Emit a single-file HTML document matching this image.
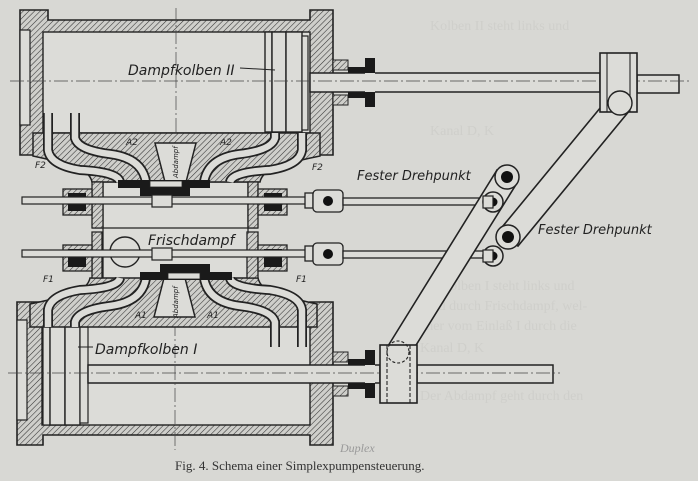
<!DOCTYPE html>
<html><head><meta charset="utf-8"><style>
html,body{margin:0;padding:0;background:#d8d8d4;}
svg{display:block}
.l{font-family:"DejaVu Sans","Liberation Sans",sans-serif;font-style:italic;fill:#222;}
</style></head><body>
<svg width="698" height="481" viewBox="0 0 698 481" xmlns="http://www.w3.org/2000/svg">
<defs>
<pattern id="h" width="4" height="4" patternUnits="userSpaceOnUse" patternTransform="rotate(45)">
<rect width="4" height="4" fill="#cfcfcb"/><line x1="0" y1="0" x2="0" y2="4" stroke="#333" stroke-width="1.1"/>
</pattern>
<g id="block">
<path d="M33,133 L320,133 L320,156 Q300,160 278,166 Q262,172 260,182 L92,182 Q90,172 74,166 Q52,160 33,156 Z" fill="url(#h)" stroke="#222" stroke-width="1.5"/>
<g fill="none" stroke-linecap="butt">
<path d="M48,113 L48,150 Q50,165 80,170 Q118,172 120,182" stroke="#222" stroke-width="10"/>
<path d="M48,113 L48,150 Q50,165 80,170 Q118,172 120,182" stroke="#dcdcd8" stroke-width="6.5"/>
<path d="M75,113 L75,138 Q78,150 110,154 Q142,158 146,182" stroke="#222" stroke-width="10"/>
<path d="M75,113 L75,138 Q78,150 110,154 Q142,158 146,182" stroke="#dcdcd8" stroke-width="6.5"/>
<path d="M302,133 L302,150 Q300,165 270,170 Q232,172 230,182" stroke="#222" stroke-width="10"/>
<path d="M302,133 L302,150 Q300,165 270,170 Q232,172 230,182" stroke="#dcdcd8" stroke-width="6.5"/>
<path d="M275,133 L275,138 Q272,150 240,154 Q208,158 204,182" stroke="#222" stroke-width="10"/>
<path d="M275,133 L275,138 Q272,150 240,154 Q208,158 204,182" stroke="#dcdcd8" stroke-width="6.5"/>
</g>
<path d="M155,143 L196,143 L186,182 L165,182 Z" fill="#dcdcd8" stroke="#222" stroke-width="1.5"/>
<rect x="118" y="180" width="92" height="8" fill="#1a1a1a"/>
<rect x="150" y="181" width="32" height="6" fill="#dcdcd8" stroke="#222" stroke-width="0.8"/>
<rect x="140" y="188" width="50" height="8" fill="#1a1a1a"/>
<path d="M92,182 L103,182 L103,228 L92,228 Z" fill="url(#h)" stroke="#222" stroke-width="1.3"/>
<path d="M248,182 L258,182 L258,228 L248,228 Z" fill="url(#h)" stroke="#222" stroke-width="1.3"/>
<rect x="63" y="189" width="29" height="26" fill="url(#h)" stroke="#222" stroke-width="1.3"/>
<rect x="68" y="193" width="18" height="18" fill="#1a1a1a"/>
<rect x="258" y="189" width="29" height="26" fill="url(#h)" stroke="#222" stroke-width="1.3"/>
<rect x="264" y="193" width="18" height="18" fill="#1a1a1a"/>
</g>
</defs>

<g fill="#cfcfcb" font-family="Liberation Serif,serif" font-size="14">
<text x="430" y="30">Kolben II steht links und</text>
<text x="430" y="135">Kanal D, K</text>
<text x="440" y="290">Kolben I steht links und</text>
<text x="420" y="310">wird durch Frischdampf, wel-</text>
<text x="420" y="330">cher vom Einlaß I durch die</text>
<text x="420" y="352">Kanal D, K</text>
<text x="420" y="400">Der Abdampf geht durch den</text>
</g>

<path d="M20,10 L48,10 L48,20 L310,20 L310,10 L333,10 L333,155 L310,155 L310,133 L43,133 L43,155 L20,155 Z" fill="url(#h)" stroke="#222" stroke-width="1.6"/>
<rect x="43" y="32" width="267" height="101" fill="#dcdcd8" stroke="#222" stroke-width="1.4"/>
<rect x="20" y="30" width="10" height="95" fill="#dcdcd8" stroke="#222" stroke-width="1.2"/>
<rect x="265" y="32" width="7" height="100" fill="#dcdcd8" stroke="#222" stroke-width="1.4"/>
<rect x="272" y="32" width="14" height="100" fill="#dcdcd8" stroke="#222" stroke-width="1.4"/>
<rect x="286" y="32" width="16" height="100" fill="#dcdcd8" stroke="#222" stroke-width="1.4"/>
<rect x="302" y="36" width="6" height="94" fill="#dcdcd8" stroke="#222" stroke-width="1.2"/>
<rect x="310" y="73" width="290" height="19" fill="#dcdcd8" stroke="#222" stroke-width="1.5"/>
<rect x="637" y="75" width="42" height="18" fill="#dcdcd8" stroke="#222" stroke-width="1.5"/>
<rect x="333" y="60" width="15" height="10" fill="url(#h)" stroke="#222"/>
<rect x="333" y="95" width="15" height="10" fill="url(#h)" stroke="#222"/>
<rect x="348" y="67" width="27" height="6" fill="#1a1a1a"/>
<rect x="348" y="92" width="27" height="6" fill="#1a1a1a"/>
<rect x="365" y="58" width="10" height="49" fill="#1a1a1a"/>
<rect x="365" y="73" width="10" height="19" fill="#dcdcd8"/>
<line x1="10" y1="81" x2="690" y2="81" stroke="#444" stroke-width="0.7" stroke-dasharray="14,3,2,3"/>
<line x1="176" y1="8" x2="176" y2="150" stroke="#444" stroke-width="0.7" stroke-dasharray="14,3,2,3"/>

<path d="M17,302 L43,302 L43,315 L310,315 L310,302 L333,302 L333,445 L310,445 L310,435 L43,435 L43,445 L17,445 Z" fill="url(#h)" stroke="#222" stroke-width="1.6"/>
<rect x="42" y="325" width="268" height="100" fill="#dcdcd8" stroke="#222" stroke-width="1.4"/>
<rect x="17" y="320" width="10" height="100" fill="#dcdcd8" stroke="#222" stroke-width="1.2"/>
<rect x="43" y="325" width="7" height="100" fill="#dcdcd8" stroke="#222" stroke-width="1.2"/>
<rect x="50" y="325" width="15" height="100" fill="#dcdcd8" stroke="#222" stroke-width="1.4"/>
<rect x="65" y="325" width="15" height="100" fill="#dcdcd8" stroke="#222" stroke-width="1.4"/>
<rect x="80" y="327" width="8" height="96" fill="#dcdcd8" stroke="#222" stroke-width="1.2"/>
<rect x="88" y="365" width="292" height="18" fill="#dcdcd8" stroke="#222" stroke-width="1.5"/>
<rect x="417" y="365" width="136" height="18" fill="#dcdcd8" stroke="#222" stroke-width="1.5"/>
<rect x="333" y="352" width="15" height="10" fill="url(#h)" stroke="#222"/>
<rect x="333" y="386" width="15" height="10" fill="url(#h)" stroke="#222"/>
<rect x="348" y="359" width="27" height="6" fill="#1a1a1a"/>
<rect x="348" y="383" width="27" height="6" fill="#1a1a1a"/>
<rect x="365" y="350" width="10" height="48" fill="#1a1a1a"/>
<rect x="365" y="365" width="10" height="18" fill="#dcdcd8"/>
<line x1="8" y1="373" x2="560" y2="373" stroke="#444" stroke-width="0.7" stroke-dasharray="14,3,2,3"/>
<line x1="175" y1="300" x2="175" y2="450" stroke="#444" stroke-width="0.7" stroke-dasharray="14,3,2,3"/>

<rect x="103" y="182" width="145" height="100" fill="#dcdcd8" stroke="#222" stroke-width="1.3"/>
<line x1="92" y1="228" x2="258" y2="228" stroke="#222" stroke-width="1.3"/>
<use href="#block"/>
<use href="#block" transform="translate(350,460) scale(-1,-1)"/>
<circle cx="125" cy="252" r="15" fill="#dcdcd8" stroke="#222" stroke-width="1.4"/>

<rect x="22" y="197" width="288" height="7" fill="#dcdcd8" stroke="#222" stroke-width="1.2"/>
<rect x="22" y="250" width="288" height="7" fill="#dcdcd8" stroke="#222" stroke-width="1.2"/>
<rect x="152" y="195" width="20" height="12" fill="#dcdcd8" stroke="#222" stroke-width="1.2"/>
<rect x="152" y="248" width="20" height="12" fill="#dcdcd8" stroke="#222" stroke-width="1.2"/>
<g stroke="#222" stroke-width="1.3" fill="#dcdcd8">
<rect x="305" y="193" width="8" height="15"/><rect x="313" y="190" width="30" height="22" rx="4"/>
<rect x="305" y="246" width="8" height="15"/><rect x="313" y="243" width="30" height="22" rx="4"/>
<rect x="343" y="198" width="142" height="7"/>
<rect x="343" y="251" width="142" height="7"/>
</g>
<circle cx="328" cy="201" r="5" fill="#111"/><circle cx="328" cy="254" r="5" fill="#111"/>

<g stroke="#222" stroke-width="1.6" fill="#dcdcd8">
<path d="M388,346 L497,170 L517,183 L408,358 Z"/>
<path d="M610,96 L498,232 L518,246 L630,110 Z"/>
</g>
<g stroke="#222" stroke-width="1.5" fill="#dcdcd8">
<circle cx="493" cy="202" r="10"/><circle cx="507" cy="177" r="12"/>
<circle cx="493" cy="256" r="10"/><circle cx="508" cy="237" r="12"/>
</g>
<g fill="#111"><circle cx="507" cy="177" r="6"/><circle cx="493" cy="202" r="4.5"/><circle cx="508" cy="237" r="6"/><circle cx="493" cy="256" r="4.5"/></g>
<rect x="483" y="196" width="10" height="12" fill="#dcdcd8" stroke="#222" stroke-width="1.2"/>
<rect x="483" y="250" width="10" height="12" fill="#dcdcd8" stroke="#222" stroke-width="1.2"/>

<g stroke="#222" stroke-width="1.6" fill="#dcdcd8">
<rect x="600" y="53" width="37" height="59"/>
<rect x="380" y="345" width="37" height="58"/>
</g>
<g stroke="#222" stroke-width="1.1">
<line x1="607" y1="53" x2="607" y2="112"/><line x1="630" y1="53" x2="630" y2="112"/>
<line x1="387" y1="345" x2="387" y2="403" stroke-dasharray="4,2"/><line x1="410" y1="345" x2="410" y2="403" stroke-dasharray="4,2"/>
</g>
<circle cx="620" cy="103" r="12" fill="#dcdcd8" stroke="#222" stroke-width="1.4"/>
<circle cx="398" cy="352" r="11" fill="none" stroke="#222" stroke-width="1.1" stroke-dasharray="3,2"/>

<text class="l" x="128" y="75" font-size="14">Dampfkolben II</text>
<line x1="240" y1="68" x2="275" y2="70" stroke="#222"/>
<text class="l" x="357" y="180" font-size="13">Fester Drehpunkt</text>
<text class="l" x="538" y="234" font-size="13">Fester Drehpunkt</text>
<text class="l" x="148" y="245" font-size="14">Frischdampf</text>
<text class="l" x="95" y="354" font-size="14">Dampfkolben I</text>
<line x1="78" y1="347" x2="93" y2="347" stroke="#222"/>
<g class="l" font-size="9">
<text x="126" y="145">A2</text><text x="220" y="145">A2</text>
<text x="35" y="168">F2</text><text x="312" y="170">F2</text>
<text x="43" y="282">F1</text><text x="296" y="282">F1</text>
<text x="135" y="318">A1</text><text x="207" y="318">A1</text>
</g>
<text class="l" font-size="7" transform="translate(178,178) rotate(-90)">Abdampf</text>
<text class="l" font-size="7" transform="translate(178,318) rotate(-90)">Abdampf</text>

<text x="175" y="470" font-family="Liberation Serif,serif" font-size="13" fill="#333">Fig. 4.  Schema einer Simplexpumpensteuerung.</text>
<text x="340" y="452" font-family="Liberation Serif,serif" font-style="italic" font-size="12" fill="#999">Duplex</text>
</svg>
</body></html>
